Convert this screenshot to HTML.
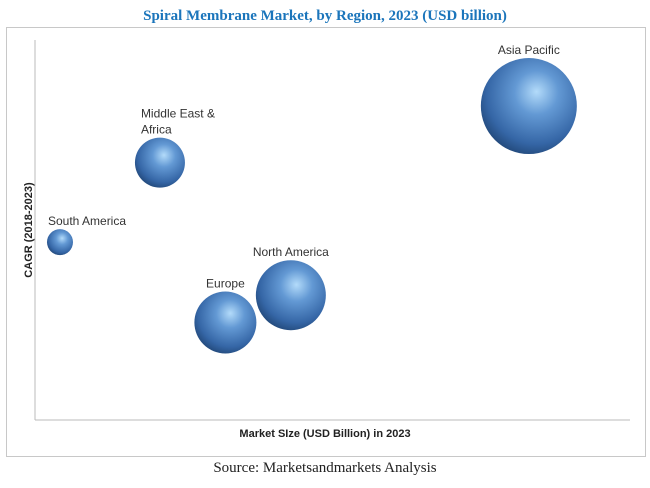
<!DOCTYPE html>
<html><head><meta charset="utf-8"><style>
body{margin:0;background:#fff;width:650px;height:483px;overflow:hidden;}
</style></head><body>
<svg width="650" height="483">
<defs>
<radialGradient id="g" cx="0.58" cy="0.38" r="0.65" fx="0.58" fy="0.35">
<stop offset="0" stop-color="#b3dbfa"/><stop offset="0.35" stop-color="#6399d4"/><stop offset="0.8" stop-color="#3566a6"/><stop offset="1" stop-color="#234a7c"/>
</radialGradient>
</defs>
<text x="325" y="20" text-anchor="middle" font-family="Liberation Serif, serif" font-weight="bold" font-size="15" fill="#1b75bb">Spiral Membrane Market, by Region, 2023 (USD billion)</text>
<rect x="6.5" y="27.5" width="639" height="429" fill="none" stroke="#c8c8c8"/>
<line x1="35" y1="40" x2="35" y2="420" stroke="#bbb"/>
<line x1="35" y1="420" x2="630" y2="420" stroke="#bbb"/>
<text x="325" y="437" text-anchor="middle" font-family="Liberation Sans, sans-serif" font-weight="bold" font-size="11" fill="#222">Market SIze (USD Billion) in 2023</text>
<text transform="translate(32,230) rotate(-90)" text-anchor="middle" font-family="Liberation Sans, sans-serif" font-weight="bold" font-size="11" fill="#222">CAGR (2018-2023)</text>
<text x="325" y="472" text-anchor="middle" font-family="Liberation Serif, serif" font-size="15" fill="#222">Source: Marketsandmarkets Analysis</text>
<g id="bubbles"></g>
</svg>
<script>
const regions=["South America","Middle East & Africa","Europe","North America","Asia Pacific"];
const marketSize=[4.2,21,32,43,83];
const cagr=[45.6,66,25,32,80.5];
const bubbleSize=[13,25,31,35,48];
function xScale(v){return 35+v*5.95;}
function yScale(v){return 420-v*3.9;}
const labelLines=[["South America"],["Middle East &","Africa"],["Europe"],["North America"],["Asia Pacific"]];
const g=document.getElementById('bubbles');
const ns="http://www.w3.org/2000/svg";
regions.forEach((r,i)=>{
  const cx=xScale(marketSize[i]),cy=yScale(cagr[i]),rad=bubbleSize[i];
  const c=document.createElementNS(ns,'circle');
  c.setAttribute('cx',cx);c.setAttribute('cy',cy);c.setAttribute('r',rad);c.setAttribute('fill','url(#g)');
  
  
  g.appendChild(c);
  const t=document.createElementNS(ns,'text');
  const lines=labelLines[i];
  let lx=cx, anchor='middle';
  if(i==1){lx=cx-19;anchor='start';}
  if(i==0){lx=cx-12;anchor='start';}
  const top=cy-rad-4-(lines.length-1)*16;
  t.setAttribute('font-family','Liberation Sans, sans-serif');t.setAttribute('font-size','12');t.setAttribute('fill','#333');
  t.setAttribute('text-anchor',anchor);
  
  
  lines.forEach((l,j)=>{const s=document.createElementNS(ns,'tspan');s.setAttribute('x',lx);s.setAttribute('y',top+j*16);s.textContent=l;t.appendChild(s);});
  g.appendChild(t);
});
</script>
</body></html>
